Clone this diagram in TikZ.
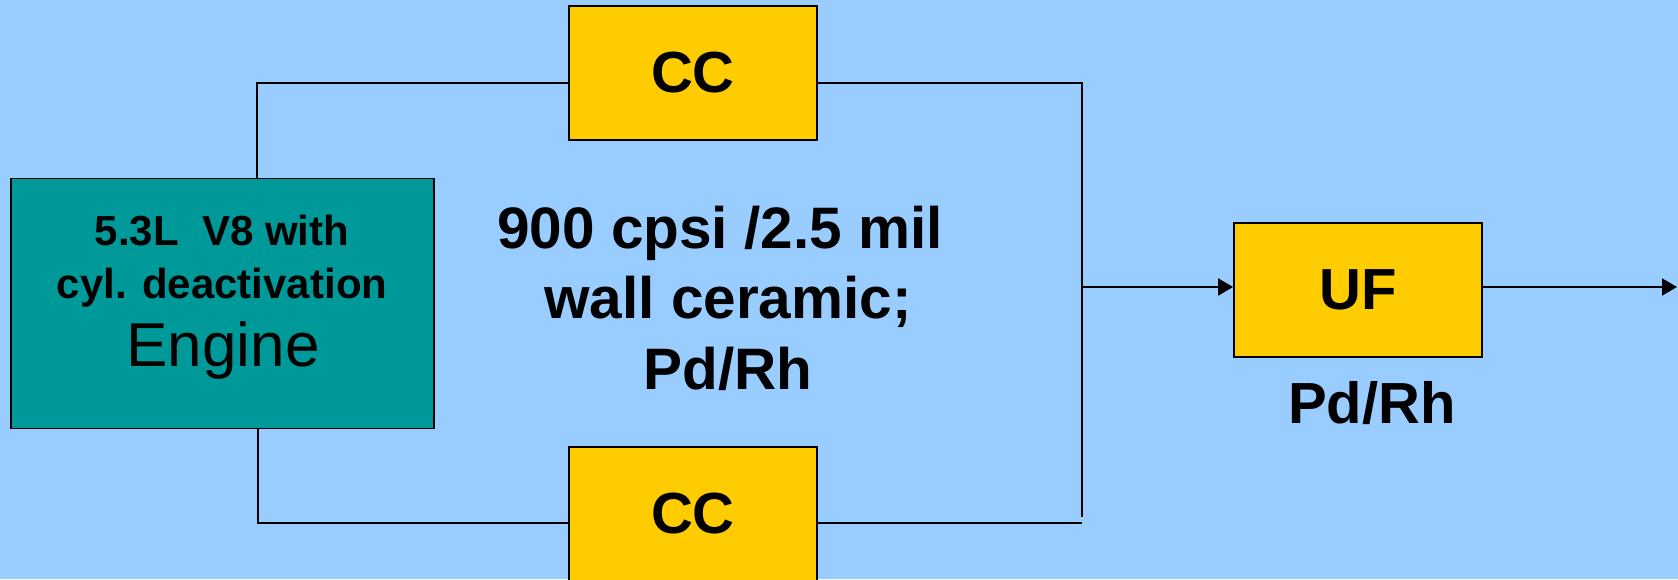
\documentclass[tikz,border=0pt]{standalone}
\usepackage{fontspec}
\setmainfont{Liberation Sans}
\usetikzlibrary{arrows.meta}
\definecolor{bgblue}{HTML}{99CCFF}
\definecolor{engteal}{HTML}{009999}
\definecolor{ccyellow}{HTML}{FFCC00}
\begin{document}
\begin{tikzpicture}[x=1pt,y=-1pt,
  box/.style={draw=black,line width=1.8pt,rectangle,inner sep=0pt},
  ccbox/.style={box,fill=ccyellow,minimum width=248pt,minimum height=134pt,
    font=\fontsize{58}{70}\selectfont\bfseries},
  wire/.style={line width=2pt,black},
  arr/.style={wire,-{Triangle[length=15pt,width=17pt]}},
  bigtxt/.style={font=\fontsize{58.5}{70}\selectfont\bfseries,inner sep=0pt,anchor=base},
  engtxt/.style={font=\fontsize{42}{50}\selectfont\bfseries,inner sep=0pt,anchor=base}]
\useasboundingbox (0,0) rectangle (1678,579);
\fill[bgblue] (0,0) rectangle (1678,579);
\clip (0,0) rectangle (1678,579);

% boxes
\node[box,fill=engteal,minimum width=423pt,minimum height=250pt] (engine) at (222.5,303.5) {};
\node[ccbox] (cc1) at (693,73) {CC};
\node[ccbox] (cc2) at (693,514) {CC};
\node[ccbox] (uf) at (1358,290) {UF};

% engine text
\node[engtxt] (e1) at (222,245) {5.3L\ \ V8 with};
\node[engtxt] (e2) at (222,298) {cyl. deactivation};
\node[font=\fontsize{62}{70}\selectfont,inner sep=0pt,anchor=base] (e3) at (223,366) {Engine};

% middle text
\node[bigtxt] (m1) at (720,248) {900 cpsi /2.5 mil};
\node[bigtxt] (m2) at (728,318) {wall ceramic;};
\node[bigtxt] (m3) at (728,389) {Pd/Rh};

% UF label
\node[font=\fontsize{58}{70}\selectfont\bfseries,inner sep=0pt,anchor=base] (uflab) at (1372,423) {Pd/Rh};

% connector points
\coordinate (tl) at (257,83);
\coordinate (tr) at (1082,83);
\coordinate (rend) at (1082,517);
\coordinate (bl) at (258,523);
\coordinate (brh) at (1082,523);
\coordinate (j) at (1082,287);
\coordinate (out) at (1677,287);

% connectors
\draw[wire] (engine.north -| tl) -- (tl) -- (cc1.west |- tl);
\draw[wire] (cc1.east |- tr) -- (tr) -- (rend);
\draw[wire] (engine.south -| bl) -- (bl) -- (cc2.west |- bl);
\draw[wire] (cc2.east |- brh) -- (brh);
\draw[arr] (j) -- (j -| uf.west);
\draw[arr] (j -| uf.east) -- (out);
\end{tikzpicture}
\end{document}
